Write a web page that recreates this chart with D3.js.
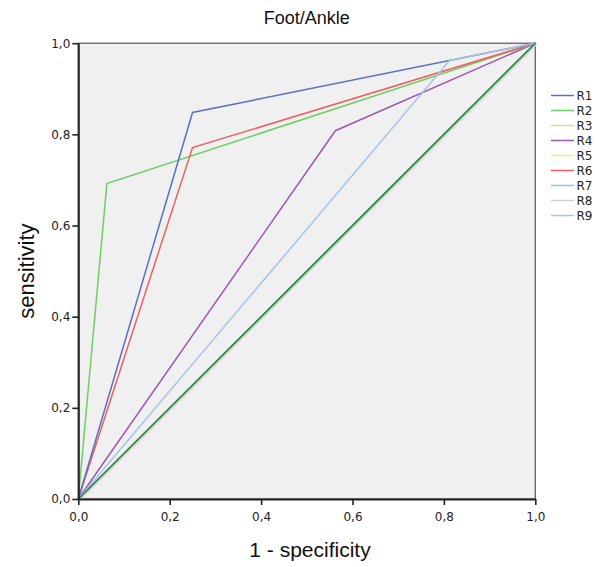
<!DOCTYPE html>
<html>
<head>
<meta charset="utf-8">
<script src="https://cdn.jsdelivr.net/npm/d3@7"></script>
<style>
  body { margin: 0; background: #fff; }
  svg { display: block; }
</style>
</head>
<body>
<svg id="chart" width="595" height="567"></svg>
<script>
// Data (1 - specificity, sensitivity)
const seriesNames = ["R1", "R2", "R3", "R4", "R5", "R6", "R7", "R8", "R9"];
const R1 = [[0, 0], [0.25, 0.848], [1, 1]];
const R2 = [[0, 0], [0.0625, 0.692], [1, 1]];
const R3 = [[0, 0], [1, 1]];
const R4 = [[0, 0], [0.5625, 0.808], [1, 1]];
const R5 = [[0, 0], [1, 1]];
const R6 = [[0, 0], [0.25, 0.771], [1, 1]];
const R7 = [[0, 0], [1, 1]];
const R8 = [[0, 0], [1, 1]];
const R9 = [[0, 0], [0.8125, 0.962], [1, 1]];
const referenceLine = [[0, 0], [1, 1]];
const xTicks = [0, 0.2, 0.4, 0.6, 0.8, 1.0];
const yTicks = [0, 0.2, 0.4, 0.6, 0.8, 1.0];
const seriesColors = ["#5b70c4", "#6ccf61", "#d8da90", "#9b59b0", "#f3ef6a", "#ef6060", "#7ad3d3", "#d0d0d0", "#a6c3e8"];

const seriesData = [R1, R2, R3, R4, R5, R6, R7, R8, R9];

const svg = d3.select("#chart");
const margin = { left: 78.3, right: 535.3, top: 43.2, bottom: 499 };
const x = d3.scaleLinear().domain([0, 1]).range([margin.left, margin.right]);
const y = d3.scaleLinear().domain([0, 1]).range([margin.bottom, margin.top]);

const fmt = d => d3.format(".1f")(d).replace(".", ",");

// Plot background
svg.append("rect")
  .attr("x", x(0)).attr("y", y(1))
  .attr("width", x(1) - x(0)).attr("height", y(0) - y(1))
  .attr("fill", "#f0f0f0")
  .attr("stroke", "#555").attr("stroke-width", 1.2);

const line = d3.line().x(d => x(d[0])).y(d => y(d[1]));

// Series lines
const drawOrder = [7, 2, 4, 6, 3, 1, 5, 0, 8];
drawOrder.forEach(i => {
  const p = svg.append("path")
    .datum(seriesData[i])
    .attr("d", line)
    .attr("fill", "none")
    .attr("stroke", seriesColors[i])
    .attr("stroke-width", 1.5);
  if (i === 7) p.attr("transform", "translate(1.5,1)");
});

// Reference diagonal
svg.append("path")
  .datum(referenceLine)
  .attr("d", line)
  .attr("fill", "none")
  .attr("stroke", "#2f7d4c")
  .attr("stroke-width", 1.6);

// Axes
const xAxis = d3.axisBottom(x).tickValues(xTicks).tickFormat(fmt).tickSize(6).tickSizeOuter(0);
const yAxis = d3.axisLeft(y).tickValues(yTicks).tickFormat(fmt).tickSize(6).tickSizeOuter(0);

const gx = svg.append("g").attr("transform", `translate(0,${y(0)})`).call(xAxis);
const gy = svg.append("g").attr("transform", `translate(${x(0)},0)`).call(yAxis);

[gx, gy].forEach(g => {
  g.select(".domain").attr("stroke", "#222").attr("stroke-width", 2);
  g.selectAll(".tick line").attr("stroke", "#222").attr("stroke-width", 1.6);
  g.selectAll(".tick text")
    .attr("fill", "#222")
    .style("font-family", "'DejaVu Sans', sans-serif")
    .style("font-size", "12px");
});
gx.selectAll(".tick text").attr("dy", "1.05em");
gy.selectAll(".tick text").attr("x", -8);

// Title
svg.append("text")
  .attr("x", 306.8).attr("y", 24)
  .attr("text-anchor", "middle")
  .style("font-family", "'Liberation Sans', Arial, sans-serif")
  .style("font-size", "18px")
  .attr("fill", "#111")
  .text("Foot/Ankle");

// Axis titles
svg.append("text")
  .attr("x", 310).attr("y", 557)
  .attr("text-anchor", "middle")
  .style("font-family", "'Liberation Sans', Arial, sans-serif")
  .style("font-size", "21px")
  .attr("fill", "#111")
  .text("1 - specificity");

svg.append("text")
  .attr("transform", `translate(34,${(y(0) + y(1)) / 2}) rotate(-90)`)
  .attr("text-anchor", "middle")
  .style("font-family", "'Liberation Sans', Arial, sans-serif")
  .style("font-size", "22px")
  .attr("fill", "#111")
  .text("sensitivity");

// Legend
const legend = svg.append("g");
seriesNames.forEach((name, i) => {
  const ly = 95.5 + i * 15;
  legend.append("line")
    .attr("x1", 551).attr("x2", 574)
    .attr("y1", ly).attr("y2", ly)
    .attr("stroke", seriesColors[i]).attr("stroke-width", 1.5);
  legend.append("text")
    .attr("x", 576.5).attr("y", ly + 4.5)
    .style("font-family", "'DejaVu Sans', sans-serif")
    .style("font-size", "12px")
    .attr("fill", "#222")
    .text(name);
});
</script>
</body>
</html>
